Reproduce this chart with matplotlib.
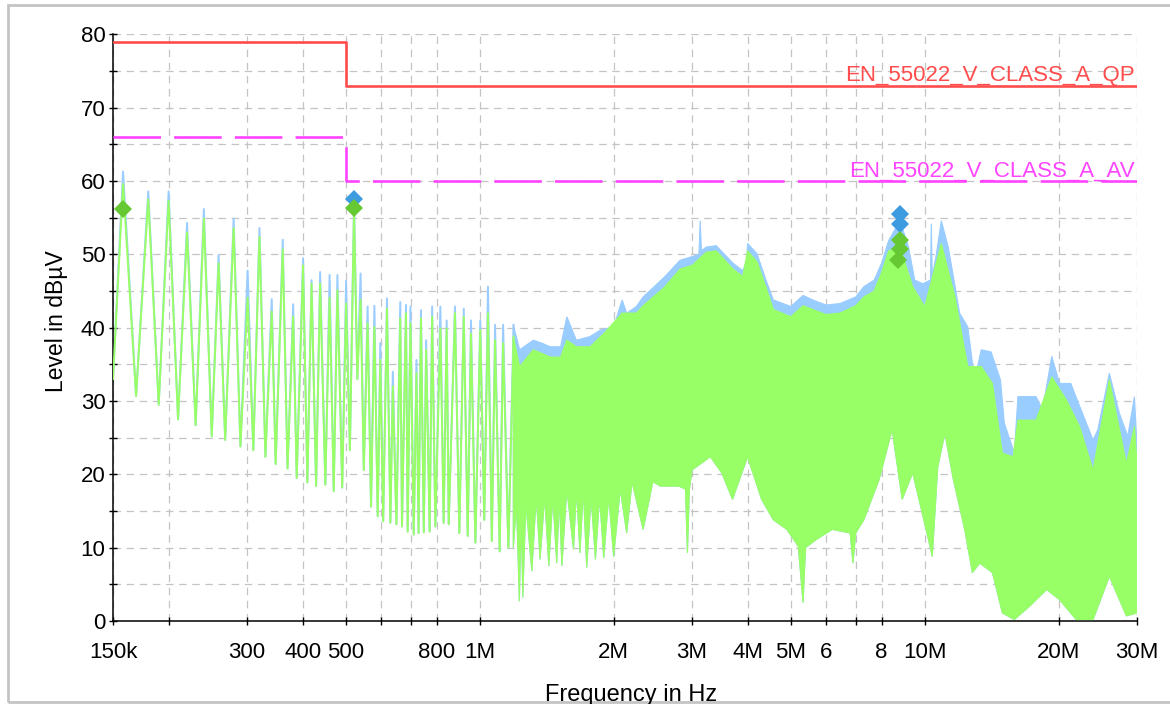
import numpy as np
import matplotlib
matplotlib.use('Agg')
import matplotlib.pyplot as plt
from matplotlib.patches import Rectangle
from matplotlib.ticker import FixedLocator, FixedFormatter, MultipleLocator, NullLocator

plt.rcParams['font.family'] = ['Liberation Sans', 'DejaVu Sans']

# Lineas limite EN 55022 clase A (MHz, dBuV)
limite_f = [0.15, 0.5, 30.0]
limite_qp = [79, 73, 73]
limite_av = [66, 60, 60]

# Zona baja (150k - 1.2M): picos de los armonicos y valles entre ellos
pico_f_khz = [158, 180, 200, 220, 240, 259, 280, 301, 320, 341, 361, 381, 401, 419,
              438, 460, 479, 501, 522, 540, 560, 580, 598, 619, 638, 663, 683, 699,
              721, 738, 758, 782, 816, 843, 880, 921, 956, 1003, 1044, 1083, 1129, 1192]
pico_pk = [61.3, 58.6, 58.6, 54.3, 56.2, 49.9, 54.9, 47.8, 53.6, 43.9, 52.0, 43.2, 49.5, 46.5,
           47.6, 47.2, 47.2, 46.4, 57.3, 47.4, 42.9, 43.0, 37.9, 44.0, 34.0, 43.5, 43.1, 42.9,
           35.6, 42.4, 38.3, 42.9, 42.9, 41.0, 42.9, 42.6, 41.0, 41.0, 45.6, 40.4, 40.4, 40.4]
pico_av = [59.6, 57.5, 57.3, 53.0, 54.9, 48.8, 53.6, 44.1, 52.4, 42.2, 50.7, 41.5, 48.5, 46.0,
           46.0, 44.1, 45.1, 43.3, 55.8, 43.8, 40.6, 40.1, 35.6, 42.6, 32.0, 41.3, 42.0, 40.6,
           33.8, 41.3, 37.0, 41.5, 39.9, 39.9, 42.0, 41.5, 39.2, 39.7, 42.0, 38.3, 37.9, 38.8]
valle_f_khz = [150, 169, 190, 210, 230, 250, 268, 290, 310, 330, 348, 370, 388, 410, 429,
               450, 470, 491, 511, 531, 549, 570, 590, 607, 630, 650, 669, 689, 711, 729,
               749, 772, 795, 830, 852, 900, 940, 978, 1024, 1065, 1109, 1160]
valle_nivel = [33.0, 30.7, 29.5, 27.5, 26.7, 25.2, 24.7, 23.8, 23.3, 22.4, 21.4, 20.8, 19.5,
               18.9, 18.4, 18.6, 17.7, 18.2, 23.3, 33.0, 20.6, 15.6, 14.3, 13.6, 13.4, 13.2,
               12.9, 12.2, 11.8, 12.0, 12.1, 12.2, 12.9, 13.4, 13.2, 12.0, 11.6, 10.7, 13.8,
               10.9, 9.5, 10.0]

# Zona densa (1.2M - 30M): envolventes (MHz, dBuV)
env_pk_f = [1.19, 1.23, 1.32, 1.38, 1.44, 1.52, 1.57, 1.65, 1.77, 1.87, 2.0, 2.09, 2.14, 2.25,
            2.33, 2.6, 2.82, 3.0, 3.11, 3.13, 3.15, 3.23, 3.4, 3.71, 3.9, 3.98, 4.0, 4.2, 4.4,
            4.57, 5.0, 5.33, 5.6, 6.0, 6.45, 7.0, 7.3, 7.7, 8.0, 8.3, 8.8, 9.2, 9.5, 9.9, 10.3,
            10.35, 10.4, 10.6, 10.9, 11.3, 11.98, 12.5, 12.95, 13.4, 14.1, 14.8, 15.1, 15.9,
            16.2, 17.8, 18.4, 19.3, 20.1, 21.3, 22.3, 23.9, 24.5, 26.0, 27.4, 28.6, 29.6, 30.0]
env_pk = [40.4, 37.0, 38.3, 37.9, 37.4, 37.4, 41.5, 38.3, 38.8, 39.7, 40.1, 43.8, 42.0, 42.9,
          44.2, 46.9, 49.2, 49.7, 50.0, 54.6, 50.5, 51.0, 51.2, 48.8, 47.8, 49.0, 51.5, 50.1, 46.5,
          43.8, 42.9, 44.4, 43.8, 43.1, 43.3, 44.2, 45.6, 46.5, 48.8, 51.9, 54.6, 51.0, 46.5, 46.0,
          46.5, 54.2, 47.0, 49.7, 54.6, 51.0, 42.0, 40.1, 32.9, 37.0, 36.7, 32.9, 27.0, 22.9,
          30.6, 30.6, 28.8, 36.1, 32.4, 32.4, 29.3, 24.7, 26.1, 33.8, 28.3, 25.2, 30.6, 23.8]
env_av_f = [1.19, 1.23, 1.32, 1.38, 1.44, 1.52, 1.57, 1.65, 1.77, 1.9, 2.09, 2.25, 2.33, 2.6,
            2.82, 3.0, 3.23, 3.4, 3.71, 3.9, 4.0, 4.2, 4.4, 4.57, 5.0, 5.33, 5.6, 6.0, 6.45,
            7.0, 7.3, 7.7, 8.0, 8.3, 8.8, 9.4, 10.0, 10.9, 11.7, 12.5, 13.4, 14.2, 14.95, 15.8,
            16.2, 17.8, 19.3, 20.8, 22.3, 23.9, 26.0, 28.4, 29.6, 30.0]
env_av = [38.8, 34.7, 37.0, 36.5, 36.0, 36.0, 38.3, 37.4, 37.4, 39.2, 42.0, 42.0, 43.0, 45.5,
          48.0, 48.5, 50.3, 50.5, 48.0, 47.0, 50.5, 49.0, 45.5, 42.5, 41.5, 43.0, 42.5, 41.8, 42.0,
          43.0, 44.2, 45.0, 47.5, 50.5, 51.0, 45.6, 42.9, 51.5, 44.2, 34.7, 34.7, 32.4, 22.9, 22.4,
          27.4, 27.4, 33.3, 30.2, 26.5, 20.6, 32.9, 21.5, 26.5, 21.5]
# borde inferior: fondo macizo con las puntas hacia abajo que se ven
env_min_f = [1.19, 1.21, 1.228, 1.24, 1.25, 1.27, 1.31, 1.34, 1.367, 1.40, 1.43, 1.46, 1.49,
             1.51, 1.53, 1.57, 1.625, 1.65, 1.68, 1.71, 1.74, 1.78, 1.82, 1.86, 1.9, 1.95,
             2.0, 2.07, 2.14, 2.2, 2.33, 2.45, 2.55, 2.8, 2.9, 2.93, 2.96, 3.0, 3.3, 3.5, 3.7,
             4.0, 4.3, 4.57, 4.9, 5.2, 5.33, 5.4, 5.7, 6.2, 6.8, 6.9, 7.0, 7.3, 7.9, 8.45, 8.9,
             9.4, 10.2, 10.4, 10.7, 11.1, 11.6, 12.3, 12.8, 13.3, 14.2, 14.95, 15.9, 17.2,
             18.8, 20.1, 21.9, 23.9, 26.0, 28.4, 30.0]
env_min = [10.0, 16.0, 2.7, 15.0, 3.2, 16.0, 6.8, 17.0, 8.4, 17.0, 7.5, 17.0, 7.9,
           17.0, 7.5, 18.0, 9.8, 18.0, 9.3, 18.0, 7.3, 17.0, 8.4, 17.0, 8.6, 17.0,
           8.8, 18.0, 12.0, 19.0, 12.5, 19.0, 18.4, 18.4, 18.0, 9.3, 18.0, 20.6, 22.4, 20.2, 16.6,
           22.4, 16.6, 13.8, 12.5, 10.2, 2.5, 10.0, 11.1, 12.5, 12.0, 7.9, 12.0, 13.8, 19.3, 26.1,
           16.6, 20.2, 11.1, 8.8, 21.0, 25.6, 19.3, 12.5, 6.6, 7.9, 6.6, 1.1, 0.2, 2.0,
           4.3, 2.9, 0.2, 0.2, 6.1, 0.7, 1.1]

# Marcadores de medida final (MHz, dBuV)
mk_pk_f = [0.522, 8.80, 8.80]
mk_pk = [57.6, 55.5, 54.2]
mk_av_f = [0.158, 0.522, 8.80, 8.78, 8.72]
mk_av = [56.2, 56.3, 52.0, 50.7, 49.3]

# Etiquetas del eje x
xt_hz = [150e3, 200e3, 300e3, 400e3, 500e3, 600e3, 700e3, 800e3, 1e6,
         2e6, 3e6, 4e6, 5e6, 6e6, 7e6, 8e6, 10e6, 20e6, 30e6]
xt_txt = ['150k', '', '300', '400', '500', '', '', '800', '1M',
          '2M', '3M', '4M', '5M', '6', '', '8', '10M', '20M', '30M']

azul = '#99ccff'
verde = '#99ff66'
rojo = '#ff4c4c'
magenta = '#ff44ff'

fig = plt.figure(figsize=(11.7, 7.04), dpi=100)
ax = fig.add_axes([0.0966, 0.1179, 0.8752, 0.8331])

# traza de la zona baja (picos y valles intercalados)
f_tr = np.r_[pico_f_khz, valle_f_khz] * 1e3
orden = np.argsort(f_tr)
y_pk = np.r_[pico_pk, valle_nivel][orden]
y_av = np.r_[pico_av, valle_nivel][orden]
ax.plot(f_tr[orden], y_pk, color=azul, lw=1.4, zorder=2)
ax.plot(f_tr[orden], y_av, color=verde, lw=1.4, zorder=3)

# zona densa como poligonos entre envolventes
ax.fill(np.r_[env_pk_f, env_min_f[::-1]] * 1e6, np.r_[env_pk, env_min[::-1]],
        color=azul, lw=0.8, zorder=2)
ax.fill(np.r_[env_av_f, env_min_f[::-1]] * 1e6, np.r_[env_av, env_min[::-1]],
        color=verde, lw=0.8, zorder=3)

# lineas limite
ax.plot(np.array(limite_f) * 1e6, limite_qp, drawstyle='steps-post',
        color=rojo, lw=1.9, zorder=4)
ax.plot(np.array(limite_f) * 1e6, limite_av, drawstyle='steps-post',
        color=magenta, lw=1.9, dashes=(18, 5), zorder=4)
ax.annotate('EN_55022_V_CLASS_A_QP', xy=(30e6, limite_qp[-1]), xytext=(-1.5, 3.5),
            textcoords='offset points', ha='right', va='baseline', color=rojo, fontsize=16)
ax.annotate('EN_55022_V_CLASS_A_AV', xy=(30e6, limite_av[-1]), xytext=(-1.5, 3.5),
            textcoords='offset points', ha='right', va='baseline', color=magenta, fontsize=16)

# marcadores
ax.plot(np.array(mk_pk_f) * 1e6, mk_pk, 'D', color='#3d9be0', markersize=9,
        markeredgewidth=0, zorder=6)
ax.plot(np.array(mk_av_f) * 1e6, mk_av, 'D', color='#66c833', markersize=9,
        markeredgewidth=0, zorder=6)

ax.set_xscale('log')
ax.set_xlim(150e3, 30e6)
ax.set_ylim(0, 80)
ax.xaxis.set_major_locator(FixedLocator(xt_hz))
ax.xaxis.set_major_formatter(FixedFormatter(xt_txt))
ax.xaxis.set_minor_locator(NullLocator())
ax.yaxis.set_major_locator(MultipleLocator(10))
ax.yaxis.set_minor_locator(MultipleLocator(5))

ax.set_axisbelow(True)
ax.grid(True, which='both', color='#c4c4c4', lw=0.9, dashes=(6, 4.5))
ax.tick_params(axis='both', which='both', direction='inout', length=6, width=1,
               labelsize=16, color='black')
ax.tick_params(axis='x', pad=12)
ax.tick_params(axis='y', pad=2.5)
for s in ['top', 'right']:
    ax.spines[s].set_visible(False)
for s in ['left', 'bottom']:
    ax.spines[s].set_linewidth(1.1)

fig.text(56 / 1170, 1 - 321 / 704, 'Level in dBµV', rotation=90, ha='center',
         va='center', fontsize=16.5)
fig.text(631 / 1170, 1 - 701 / 704, 'Frequency in Hz', ha='center', va='baseline',
         fontsize=17)

# marco exterior gris
fig.add_artist(Rectangle((8 / 1170, 1 - 702 / 704), 1.2, (702 - 5) / 704,
                         transform=fig.transFigure, fill=False,
                         edgecolor='#c4c4c4', lw=2))

fig.savefig('out.png', dpi=100)
